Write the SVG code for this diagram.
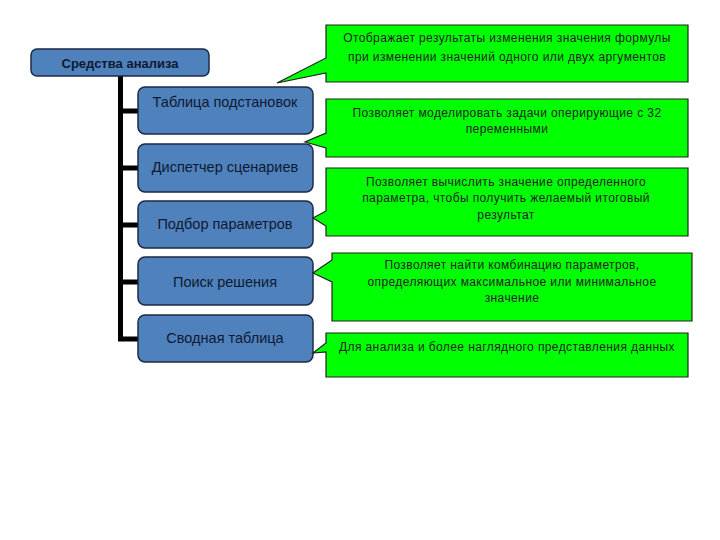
<svg xmlns="http://www.w3.org/2000/svg" width="720" height="540" viewBox="0 0 720 540">
<style>
.box{fill:#4F81BD;stroke:#1B2A44;stroke-width:1.5}
.bt{font-family:"Liberation Sans",Arial,sans-serif;font-size:14.5px;fill:#0E1A30;text-anchor:middle}
.rt{font-family:"Liberation Sans",Arial,sans-serif;font-size:13px;font-weight:bold;fill:#0E1A30;text-anchor:middle}
.co{fill:#00FF00;stroke:#222;stroke-width:1.2}
.ct{font-family:"Liberation Sans",Arial,sans-serif;font-size:12px;letter-spacing:0.4px;fill:#222;text-anchor:middle}
.ln{fill:none;stroke:#000;stroke-width:5}
</style>
<rect width="720" height="540" fill="#fff"/>
<g id="connectors">
<path class="ln" d="M120.5,76 V339 H138"/>
<path class="ln" d="M120.5,111 H138 M120.5,168 H138 M120.5,225 H138 M120.5,282 H138"/>
</g>
<g id="root">
<rect class="box" x="31" y="49" width="178" height="27" rx="6"/>
<text class="rt" x="120" y="68">Средства анализа</text>
</g>
<g id="n1">
<rect class="box" x="138" y="87" width="175" height="47" rx="7"/>
<text class="bt" x="225" y="107">Таблица подстановок</text>
</g>
<g id="n2">
<rect class="box" x="138" y="144" width="175" height="48" rx="7"/>
<text class="bt" x="225" y="172">Диспетчер сценариев</text>
</g>
<g id="n3">
<rect class="box" x="138" y="201" width="175" height="47" rx="7"/>
<text class="bt" x="225" y="229">Подбор параметров</text>
</g>
<g id="n4">
<rect class="box" x="138" y="257" width="175" height="48" rx="7"/>
<text class="bt" x="225" y="287">Поиск решения</text>
</g>
<g id="n5">
<rect class="box" x="138" y="315" width="175" height="47" rx="7"/>
<text class="bt" x="225" y="343">Сводная таблица</text>
</g>
<g id="c1">
<path class="co" d="M326,25 H688 V82 H326 V73 L277,83 L326,58 Z"/>
<text class="ct" x="507" y="42">Отображает результаты изменения значения формулы</text>
<text class="ct" x="507" y="61">при изменении значений одного или двух аргументов</text>
</g>
<g id="c2">
<path class="co" d="M326,99 H688 V157 H326 V148 L305,142 L326,133 Z"/>
<text class="ct" x="507" y="117">Позволяет моделировать задачи оперирующие с 32</text>
<text class="ct" x="507" y="133">переменными</text>
</g>
<g id="c3">
<path class="co" d="M326,168 H688 V236 H326 V226 L313,218 L326,211 Z"/>
<text class="ct" x="506" y="186">Позволяет вычислить значение определенного</text>
<text class="ct" x="506" y="202">параметра, чтобы получить желаемый итоговый</text>
<text class="ct" x="506" y="219">результат</text>
</g>
<g id="c4">
<path class="co" d="M332,253 H692 V321 H332 V282 L313,273 L332,260 Z"/>
<text class="ct" x="512" y="269">Позволяет найти комбинацию параметров,</text>
<text class="ct" x="512" y="286">определяющих максимальное  или минимальное</text>
<text class="ct" x="512" y="302">значение</text>
</g>
<g id="c5">
<path class="co" d="M326,333 H688 V377 H326 V352 L313,353 L326,343 Z"/>
<text class="ct" x="507" y="351">Для анализа и более наглядного представления данных</text>
</g>
</svg>
